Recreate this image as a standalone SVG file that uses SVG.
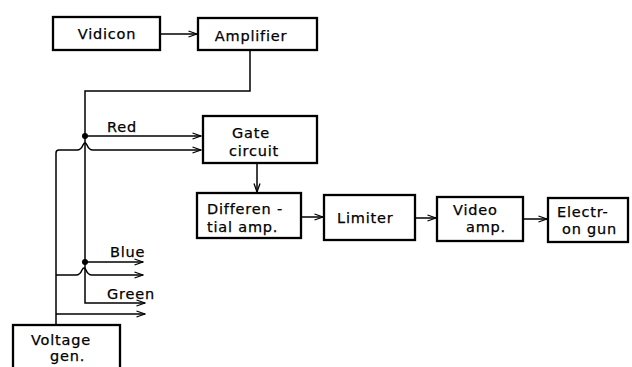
<svg xmlns="http://www.w3.org/2000/svg" width="632" height="367" viewBox="0 0 632 367">
<defs>
<style>
.box{fill:#fff;stroke:#000;stroke-width:2.3}
.ln{fill:none;stroke:#000;stroke-width:1.5}
text{font-family:"DejaVu Sans","Liberation Sans",sans-serif;font-size:14.5px;letter-spacing:0.8px;fill:#000;stroke:#000;stroke-width:0.25}
</style>
<marker id="ar" viewBox="0 0 10 10" refX="9.5" refY="5" markerWidth="10" markerHeight="10" markerUnits="userSpaceOnUse" orient="auto">
<path d="M1,2 L9.5,5 L1,8" fill="none" stroke="#000" stroke-width="1.3"/>
</marker>
</defs>
<rect width="632" height="367" fill="#fff"/>
<g id="connectors">
<line class="ln" x1="160" y1="34" x2="197" y2="34" marker-end="url(#ar)"/>
<path class="ln" d="M250,50 V91 H85 V303 H145" marker-end="url(#ar)"/>
<line class="ln" x1="85" y1="136" x2="201" y2="136" marker-end="url(#ar)"/>
<path class="ln" d="M56,325 V153 Q56,150 59,150 H77 Q81,150 83,145 Q85,141 87,145 Q89,150 93,150 H201" marker-end="url(#ar)"/>
<line class="ln" x1="85" y1="262" x2="143" y2="262" marker-end="url(#ar)"/>
<path class="ln" d="M56,275 H76 Q80,275 82,270 Q84,266 86,270 Q88,275 92,275 H143" marker-end="url(#ar)"/>
<line class="ln" x1="56" y1="314" x2="145" y2="314" marker-end="url(#ar)"/>
<line class="ln" x1="257" y1="163" x2="257" y2="192" marker-end="url(#ar)"/>
<line class="ln" x1="301" y1="217" x2="323" y2="217" marker-end="url(#ar)"/>
<line class="ln" x1="415" y1="218" x2="436" y2="218" marker-end="url(#ar)"/>
<line class="ln" x1="523" y1="219" x2="547" y2="219" marker-end="url(#ar)"/>
<circle cx="85" cy="136" r="3"/>
<circle cx="85" cy="262" r="3"/>
<text x="107" y="132">Red</text>
<text x="110" y="257">Blue</text>
<text x="107" y="299">Green</text>
</g>
<g id="vidicon"><rect class="box" x="53" y="17" width="107" height="33"/><text x="107" y="39" text-anchor="middle">Vidicon</text></g>
<g id="amplifier"><rect class="box" x="198" y="18" width="119" height="32"/><text x="251" y="41" text-anchor="middle">Amplifier</text></g>
<g id="gate"><rect class="box" x="203" y="116" width="114" height="47"/><text x="251" y="138" text-anchor="middle">Gate</text><text x="254" y="156" text-anchor="middle">circuit</text></g>
<g id="differential"><rect class="box" x="197" y="193" width="104" height="45"/><text x="207" y="214">Differen -</text><text x="207" y="232">tial  amp.</text></g>
<g id="limiter"><rect class="box" x="324" y="195" width="91" height="45"/><text x="337" y="223">Limiter</text></g>
<g id="video"><rect class="box" x="437" y="197" width="86" height="44"/><text x="453" y="215">Video</text><text x="466" y="232">amp.</text></g>
<g id="electron"><rect class="box" x="548" y="198" width="80" height="44"/><text x="557" y="217">Electr-</text><text x="562" y="234">on gun</text></g>
<g id="voltage"><rect class="box" x="13" y="325" width="107" height="50"/><text x="31" y="345">Voltage</text><text x="50" y="361">gen.</text></g>
</svg>
